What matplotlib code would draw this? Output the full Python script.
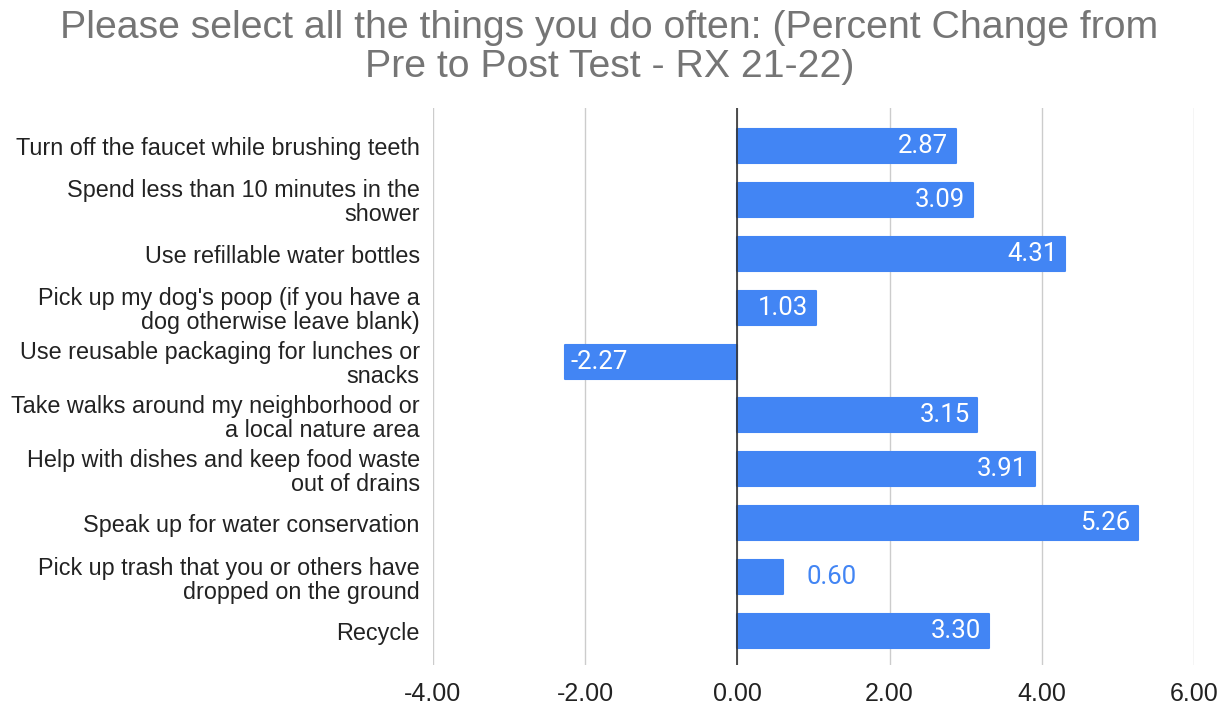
import matplotlib.pyplot as plt

categories = [
    "Turn off the faucet while brushing teeth",
    "Spend less than 10 minutes in the\nshower",
    "Use refillable water bottles",
    "Pick up my dog's poop (if you have a\ndog otherwise leave blank)",
    "Use reusable packaging for lunches or\nsnacks",
    "Take walks around my neighborhood or\na local nature area",
    "Help with dishes and keep food waste\nout of drains",
    "Speak up for water conservation",
    "Pick up trash that you or others have\ndropped on the ground",
    "Recycle",
]
values = [2.87, 3.09, 4.31, 1.03, -2.27, 3.15, 3.91, 5.26, 0.60, 3.30]
ticks = [-4, -2, 0, 2, 4, 6]

plt.rcParams['font.family'] = ['Liberation Sans', 'DejaVu Sans']
blue = '#4285F4'
label_font = ['Roboto', 'DejaVu Sans']

fig = plt.figure(figsize=(12.19, 7.04), dpi=100)
ax = fig.add_axes([0.3552, 0.0554, 0.6243, 0.7912])

ypos = list(range(len(categories)))
bars = ax.barh(ypos, values, height=0.63, color=blue, edgecolor=blue,
               linewidth=1.5, zorder=3)
for b in bars:
    b.set_joinstyle('round')

# value labels: inside the bar end, or outside when the bar is short
for y, v in zip(ypos, values):
    txt = f"{v:.2f}"
    if abs(v) < 0.8:
        ax.text(v + 0.31, y, txt, va='center', ha='left', color=blue,
                fontsize=18.5, family=label_font, zorder=4)
    elif v >= 0:
        ax.text(v - 0.1, y, txt, va='center', ha='right', color='white',
                fontsize=18.5, family=label_font, zorder=4)
    else:
        ax.text(v + 0.08, y, txt, va='center', ha='left', color='white',
                fontsize=18.5, family=label_font, zorder=4)

ax.set_xlim(-4, 6)
ax.set_ylim(9.63, -0.705)
ax.set_xticks(ticks)
ax.set_xticklabels([f"{t:.2f}" for t in ticks], fontsize=18, color='#222222')
ax.set_yticks(ypos)
ax.set_yticklabels(categories, fontsize=16.8, color='#222222', linespacing=1.05)
ax.tick_params(axis='both', length=0)
ax.tick_params(axis='y', pad=9.5)
ax.tick_params(axis='x', pad=12)

ax.grid(axis='x', color='#cccccc', linewidth=1, zorder=0)
ax.axvline(0, color='#333333', linewidth=1.2, zorder=5)
for s in ax.spines.values():
    s.set_visible(False)

fig.text(0.5, 1 - 10 / 704,
         "Please select all the things you do often: (Percent Change from\nPre to Post Test - RX 21-22)",
         ha='center', va='top', fontsize=28.3, color='#757575', linespacing=1.12)

fig.savefig('out.png', dpi=100)
